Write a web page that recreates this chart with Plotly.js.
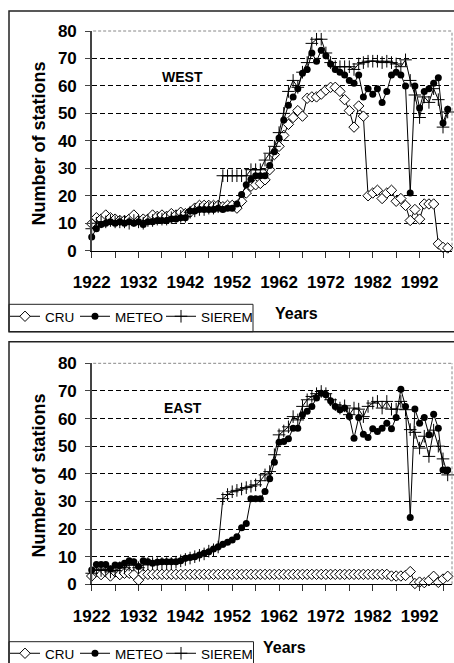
<!DOCTYPE html>
<html>
<head>
<meta charset="utf-8">
<script src="https://cdn.plot.ly/plotly-3.0.1.min.js"></script>
<style>html,body{margin:0;padding:0;background:#fff;overflow:hidden;}#chart{width:454px;height:663px;}</style>
</head>
<body>
<div id="chart"></div>
<script>
const years = [1922,1923,1924,1925,1926,1927,1928,1929,1930,1931,1932,1933,1934,1935,1936,1937,1938,1939,1940,1941,
1942,1943,1944,1945,1946,1947,1948,1949,1950,1951,1952,1953,1954,1955,1956,1957,1958,1959,1960,1961,
1962,1963,1964,1965,1966,1967,1968,1969,1970,1971,1972,1973,1974,1975,1976,1977,1978,1979,1980,1981,
1982,1983,1984,1985,1986,1987,1988,1989,1990,1991,1992,1993,1994,1995,1996,1997,1998];

// WEST
const westCRU = [9.8,12,11.5,13,12,11.5,11,11,11.5,13,11,11.5,11.5,13,12.5,13,12.5,13.5,13,14,
13.5,14,15.5,16.5,16.5,16.5,16.5,16.5,16,16.5,16.5,15.5,18,21,23.5,24,24.5,25.8,29.5,35,
38,42,46,48.5,51,49,55.5,56,56,57,58.5,59.5,59.5,58,55,51,45,52.7,49,20,
21,22,19,21,22,18,19,16.5,11,15,11.5,17,17,17,2.5,1.2,1];
const westMETEO = [5,8,9.5,10,10.5,10,10.5,10,10.5,10,10.5,9.5,10.5,10.5,11,11,11,11.5,11.5,12,
12,14.5,14.5,15,15,15,15,15.5,15,15.5,15.5,17,20.5,24,26,27.3,27.3,27.3,31,36,
41,47.6,53,56,59,64.6,66,72,69,73,71,68,66,65,64,62,61,64,56,59,
57,59,54,58,64,65,64,60,21,60,52,58,59,61,63,46.5,51.5];
const westSIEREM = [8,10,10.5,10.5,11,10.5,10.5,10.5,10,11,10.5,10,11,11,11.5,11.5,11.5,12,12.5,12.5,
12.5,14,14.5,15,15,15.5,15.5,16,27.3,27.3,27.3,27.3,27.3,27.3,29.5,29.5,29.5,33,35.5,38,
43,50,58,62,59.5,65,68.5,75.5,77,77,72,68.5,67,67,67,67,66,68,68.5,69,
69,69,68.5,69,68.5,68,67,69.5,62,56.7,48.5,56,54,59,55,45,50.5];

// EAST
const eastCRU = [3,4.5,3.5,4.5,3,4.5,3.5,4,4,3.5,1.5,3.6,3.6,3.6,3.6,3.6,3.6,3.6,3.6,3.6,
3.6,3.6,3.6,3.6,3.6,3.6,3.6,3.6,3.6,3.6,3.6,3.6,3.6,3.6,3.6,3.6,3.6,3.6,3.6,3.6,
3.6,3.6,3.6,3.6,3.6,3.6,3.6,3.6,3.6,3.6,3.6,3.6,3.6,3.6,3.6,3.6,3.6,3.6,3.6,3.6,
3.6,3.6,3.6,3.6,3,3,3,3.2,4.6,0.3,0.8,0.6,1.3,2.9,0.7,1.9,2.9];
const eastMETEO = [5.2,7.2,7.2,7.2,5.6,7,6.8,7.6,8.5,8.2,6.4,8.5,8.2,7.6,8,8.2,8.2,8.2,8.2,8.5,
9.4,9.7,10,10.6,11.2,11.8,12.8,13.6,14.5,15.2,16,17.2,20.5,22,31,31,31,33.6,38.2,44.2,
51.4,51.7,52.7,56.5,56.5,61.4,62.6,64.4,67.4,69.2,68.6,66.4,64.4,63.2,63.8,60.7,52.9,60.4,54.3,53.1,
56.3,55.3,56.5,58.3,56.3,60.4,70.6,64.4,24.2,63.5,58.3,60.4,54.1,61.6,56.5,41.4,41.4];
const eastSIEREM = [4,5.5,5,5.5,4.5,5,6,6,7,7,6,7,7.5,7.5,7.5,7.5,7.5,7.5,8,8.5,
9,9.5,10,10.5,11,12,12.5,13.5,31,32.5,33.5,34,34.5,35,35.5,36,37.5,39.6,40.8,46.9,
54.1,55.5,57,60.7,59.5,64.4,66.8,68,69,69.8,69,66.8,65,63.8,64.6,61.4,63.8,63.4,60.7,64.4,
65.6,66.2,63.8,66.2,63.4,63.4,66.2,63.2,56,55,49.3,53.6,46.3,55.8,50,45.4,39.6];

const seriesNames = ['CRU', 'METEO', 'SIEREM'];
const xTickVals = [1922,1927,1932,1937,1942,1947,1952,1957,1962,1967,1972,1977,1982,1987,1992,1997];
const xTickText = ['1922','','1932','','1942','','1952','','1962','','1972','','1982','','1992',''];
const yTickVals = [0,10,20,30,40,50,60,70,80];
const yTickText = ['0','10','20','30','40','50','60','70','80'];

const FONT = 'Liberation Sans, Arial, sans-serif';
const W = 454, H = 663;
const px = v => v / W;
const py = v => 1 - v / H;

const markerStyles = [
  {symbol: 'diamond', size: 8, color: '#ffffff', line: {color: '#000', width: 1}},
  {symbol: 'circle', size: 7, color: '#000000', line: {color: '#000', width: 0}},
  {symbol: 'cross-thin-open', size: 9, color: '#000000', line: {color: '#000', width: 1}}
];
const legendWidths = [25, 41, 53];

function mk(y, i, xa, ya, leg) {
  return {
    type: 'scatter', mode: 'lines+markers', x: years, y: y, name: seriesNames[i],
    xaxis: xa, yaxis: ya, legend: leg, cliponaxis: false, legendwidth: legendWidths[i],
    line: {color: '#000', width: 1},
    marker: markerStyles[i]
  };
}

const data = [
  mk(westCRU, 0, 'x', 'y', 'legend'),
  mk(westMETEO, 1, 'x', 'y', 'legend'),
  mk(westSIEREM, 2, 'x', 'y', 'legend'),
  mk(eastCRU, 0, 'x2', 'y2', 'legend2'),
  mk(eastMETEO, 1, 'x2', 'y2', 'legend2'),
  mk(eastSIEREM, 2, 'x2', 'y2', 'legend2')
];

function xax(anchor) {
  return {
    anchor: anchor, domain: [px(91.7), px(452)], range: [1922, 1998.92],
    showline: true, linecolor: '#000', linewidth: 1,
    ticks: 'outside', ticklen: 6, tickwidth: 1, tickcolor: '#333',
    tickmode: 'array', tickvals: xTickVals, ticktext: xTickText,
    tickfont: {family: FONT, size: 17, color: '#000', weight: 'bold'},
    ticklabelstandoff: 10,
    showgrid: false, zeroline: false, fixedrange: true
  };
}
function yax(anchor, dom) {
  return {
    anchor: anchor, domain: dom, range: [0, 80],
    showline: true, linecolor: '#444', linewidth: 1.5,
    ticks: 'outside', ticklen: 5, tickwidth: 1, tickcolor: '#444',
    tickmode: 'array', tickvals: yTickVals, ticktext: yTickText,
    tickfont: {family: FONT, size: 17, color: '#000', weight: 'bold'},
    ticklabelstandoff: 5,
    showgrid: true, gridcolor: '#000', gridwidth: 1, griddash: '5px,3px',
    zeroline: false, fixedrange: true
  };
}

const shapes = [];
// outer chart boxes
shapes.push({type: 'rect', xref: 'paper', yref: 'paper', x0: px(9), x1: 1.05, y0: py(331.7), y1: py(11), line: {color: '#222', width: 1.5}});
shapes.push({type: 'rect', xref: 'paper', yref: 'paper', x0: px(9), x1: 1.05, y0: -0.05, y1: py(341.7), line: {color: '#222', width: 1.5}});
// legend boxes
shapes.push({type: 'rect', xref: 'paper', yref: 'paper', x0: px(9), x1: px(253), y0: py(331.7), y1: py(304.3), line: {color: '#222', width: 1}});
shapes.push({type: 'rect', xref: 'paper', yref: 'paper', x0: px(9), x1: px(253.5), y0: -0.05, y1: py(641.7), line: {color: '#222', width: 1}});
// plot-area borders (grey dashed top and right)
[['x domain', 'y domain'], ['x2 domain', 'y2 domain']].forEach(function (r) {
  shapes.push({type: 'line', xref: r[0], yref: r[1], x0: 0.004, x1: 1, y0: 1, y1: 1, line: {color: '#fff', width: 2}});
  shapes.push({type: 'line', xref: r[0], yref: r[1], x0: 0.004, x1: 1, y0: 1, y1: 1, line: {color: '#888', width: 1, dash: '3px,2px'}});
  shapes.push({type: 'line', xref: r[0], yref: r[1], x0: 1, x1: 1, y0: 0, y1: 1, line: {color: '#888', width: 1, dash: '3px,2px'}});
});

const annFont = (s) => ({family: FONT, size: s, color: '#000', weight: 'bold'});
const annotations = [
  {xref: 'paper', yref: 'paper', x: px(182), y: py(76.7), text: 'WEST', showarrow: false, font: annFont(14), xanchor: 'center', yanchor: 'middle'},
  {xref: 'paper', yref: 'paper', x: px(183), y: py(408.3), text: 'EAST', showarrow: false, font: annFont(14), xanchor: 'center', yanchor: 'middle'},
  {xref: 'paper', yref: 'paper', x: px(38.5), y: py(144), text: 'Number of stations', textangle: -90, showarrow: false, font: annFont(18), xanchor: 'center', yanchor: 'middle'},
  {xref: 'paper', yref: 'paper', x: px(38.5), y: py(476), text: 'Number of stations', textangle: -90, showarrow: false, font: annFont(18), xanchor: 'center', yanchor: 'middle'},
  {xref: 'paper', yref: 'paper', x: px(296), y: py(313), text: 'Years', showarrow: false, font: annFont(16), xanchor: 'center', yanchor: 'middle'},
  {xref: 'paper', yref: 'paper', x: px(284.5), y: py(647), text: 'Years', showarrow: false, font: annFont(16), xanchor: 'center', yanchor: 'middle'}
];

const legStyle = (ytop) => ({
  x: px(5), y: py(ytop), xanchor: 'left', yanchor: 'top', orientation: 'h',
  bgcolor: 'rgba(0,0,0,0)', borderwidth: 0,
  font: {family: FONT, size: 13.5, color: '#000'},
  itemclick: false, itemdoubleclick: false
});

const layout = {
  width: W, height: H,
  margin: {l: 0, r: 0, t: 0, b: 0, autoexpand: false},
  paper_bgcolor: '#fff', plot_bgcolor: '#fff',
  font: {family: FONT, color: '#000'},
  showlegend: true,
  legend: legStyle(301),
  legend2: legStyle(638),
  xaxis: xax('y'),
  yaxis: yax('x', [py(250.7), py(31)]),
  xaxis2: xax('y2'),
  yaxis2: yax('x2', [py(584.3), py(363.3)]),
  shapes: shapes,
  annotations: annotations
};

Plotly.newPlot('chart', data, layout, {displayModeBar: false, staticPlot: true});
</script>
</body>
</html>
